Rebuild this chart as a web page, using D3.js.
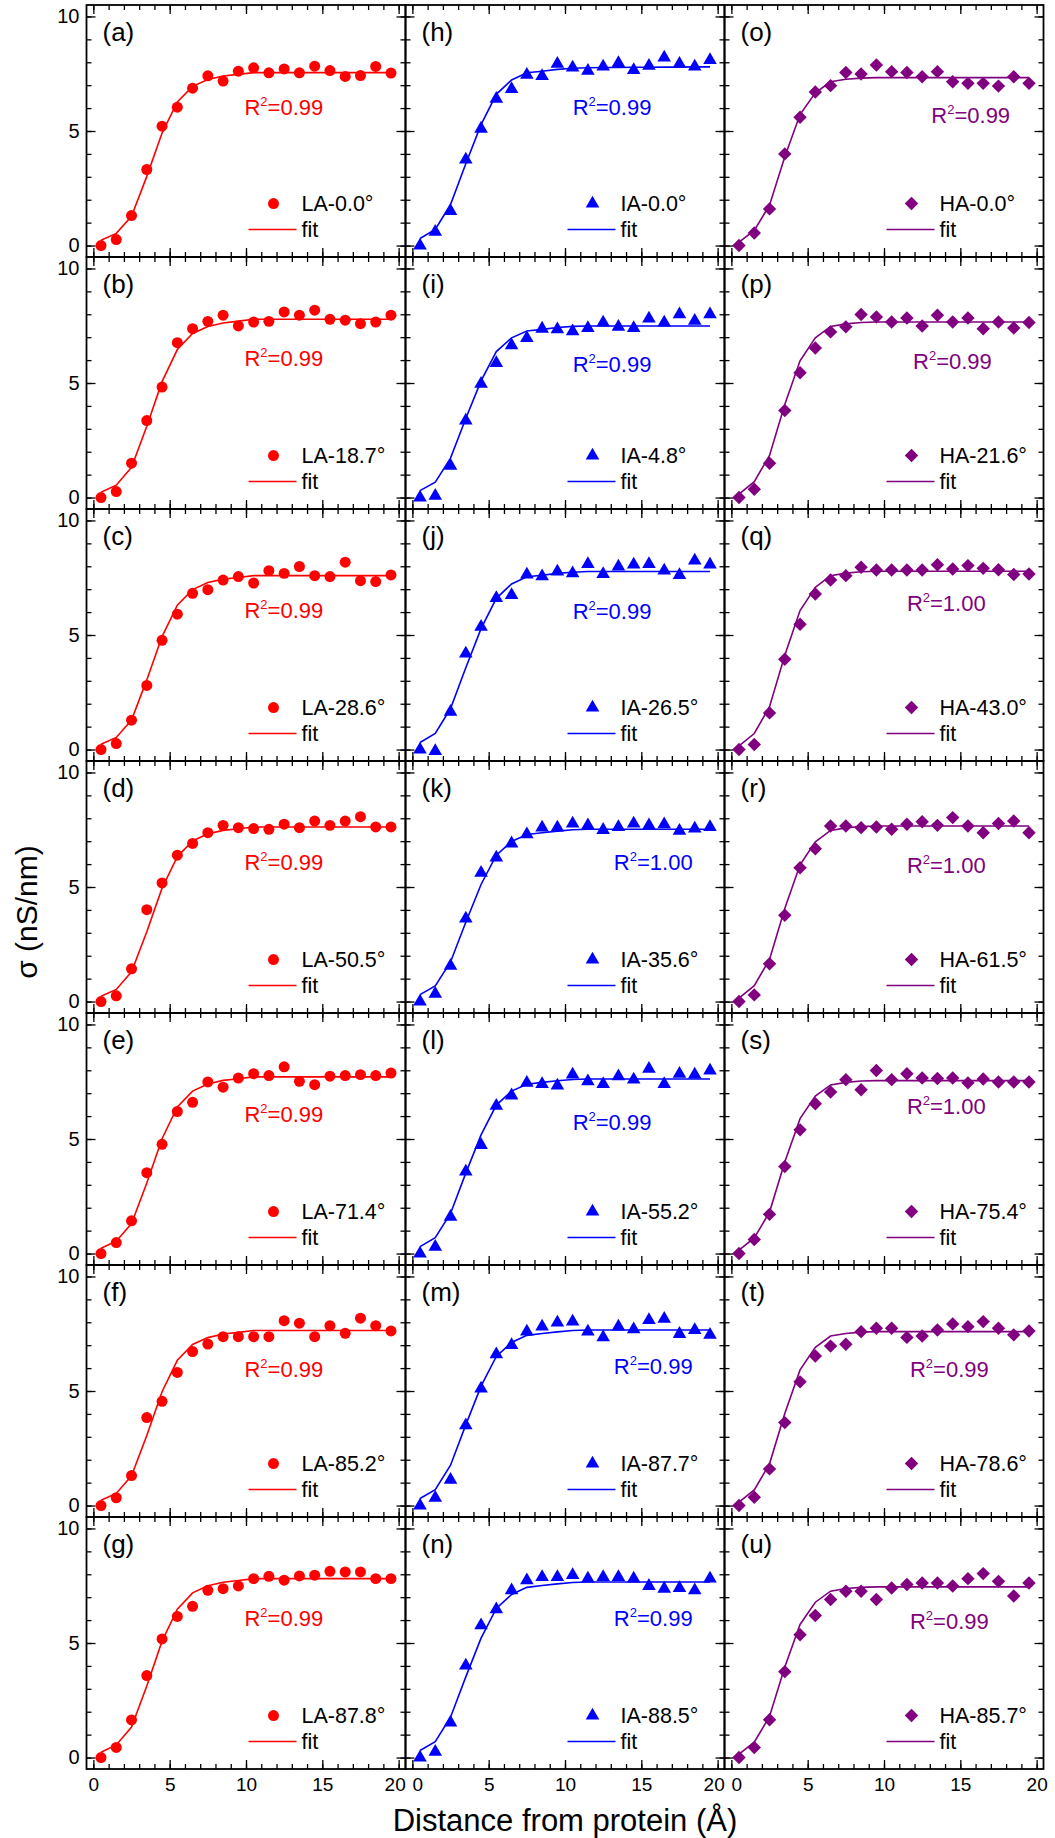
<!DOCTYPE html>
<html>
<head>
<meta charset="utf-8">
<script src="https://cdn.jsdelivr.net/npm/d3@7"></script>
<style>
  body { margin: 0; background: #fff; }
  text { font-family: "Liberation Sans", Arial, sans-serif; }
</style>
</head>
<body>
<div id="chart"></div>
<script>
// distance (Å) of every sample
let distance = [0.5, 1.5, 2.5, 3.5, 4.5, 5.5, 6.5, 7.5, 8.5, 9.5, 10.5, 11.5, 12.5, 13.5, 14.5, 15.5, 16.5, 17.5, 18.5, 19.5];

// low angle (LA) series, panels a-g
let laData = [
  [0, 0.26, 1.31, 3.32, 5.21, 6.04, 6.87, 7.41, 7.18, 7.61, 7.76, 7.54, 7.71, 7.54, 7.83, 7.64, 7.38, 7.42, 7.82, 7.53],
  [0, 0.26, 1.5, 3.36, 4.82, 6.76, 7.37, 7.69, 7.96, 7.49, 7.66, 7.69, 8.1, 7.96, 8.18, 7.78, 7.74, 7.59, 7.66, 7.96],
  [0, 0.26, 1.28, 2.8, 4.77, 5.91, 6.82, 6.98, 7.4, 7.55, 7.27, 7.81, 7.69, 7.99, 7.59, 7.55, 8.18, 7.37, 7.33, 7.62],
  [0, 0.25, 1.43, 4.01, 5.18, 6.39, 6.9, 7.37, 7.69, 7.59, 7.55, 7.52, 7.74, 7.59, 7.88, 7.69, 7.88, 8.07, 7.62, 7.62],
  [0, 0.48, 1.43, 3.53, 4.77, 6.2, 6.6, 7.49, 7.26, 7.66, 7.85, 7.77, 8.15, 7.52, 7.37, 7.74, 7.77, 7.81, 7.77, 7.88],
  [0, 0.34, 1.31, 3.84, 4.55, 5.81, 6.72, 7.05, 7.37, 7.37, 7.37, 7.37, 8.07, 7.96, 7.37, 7.85, 7.52, 8.18, 7.85, 7.62],
  [0, 0.44, 1.64, 3.58, 5.18, 6.16, 6.6, 7.3, 7.37, 7.49, 7.81, 7.91, 7.74, 7.93, 7.96, 8.13, 8.1, 8.1, 7.81, 7.81]
];
let laFit = [
  [0.23, 0.53, 1.28, 3.02, 4.91, 6.27, 6.95, 7.25, 7.4, 7.47, 7.55, 7.55, 7.55, 7.55, 7.55, 7.55, 7.55, 7.55, 7.55, 7.55],
  [0.23, 0.54, 1.32, 3.11, 5.06, 6.46, 7.16, 7.47, 7.62, 7.7, 7.78, 7.78, 7.78, 7.78, 7.78, 7.78, 7.78, 7.78, 7.78, 7.78],
  [0.23, 0.53, 1.29, 3.04, 4.93, 6.3, 6.98, 7.29, 7.44, 7.51, 7.59, 7.59, 7.59, 7.59, 7.59, 7.59, 7.59, 7.59, 7.59, 7.59],
  [0.23, 0.53, 1.3, 3.05, 4.95, 6.32, 7.01, 7.32, 7.47, 7.54, 7.62, 7.62, 7.62, 7.62, 7.62, 7.62, 7.62, 7.62, 7.62, 7.62],
  [0.23, 0.54, 1.31, 3.08, 5.01, 6.4, 7.09, 7.4, 7.56, 7.63, 7.71, 7.71, 7.71, 7.71, 7.71, 7.71, 7.71, 7.71, 7.71, 7.71],
  [0.23, 0.53, 1.3, 3.06, 4.97, 6.34, 7.03, 7.33, 7.49, 7.56, 7.64, 7.64, 7.64, 7.64, 7.64, 7.64, 7.64, 7.64, 7.64, 7.64],
  [0.23, 0.55, 1.33, 3.12, 5.08, 6.48, 7.19, 7.5, 7.65, 7.73, 7.81, 7.81, 7.81, 7.81, 7.81, 7.81, 7.81, 7.81, 7.81, 7.81]
];
let laNames = ["LA-0.0°", "LA-18.7°", "LA-28.6°", "LA-50.5°", "LA-71.4°", "LA-85.2°", "LA-87.8°"];
let laR2 = ["0.99", "0.99", "0.99", "0.99", "0.99", "0.99", "0.99"];

// intermediate angle (IA) series, panels h-n
let iaData = [
  [0, 0.6, 1.5, 3.75, 5.1, 6.4, 6.83, 7.45, 7.4, 7.93, 7.77, 7.63, 7.81, 7.96, 7.66, 7.84, 8.2, 7.93, 7.81, 8.1],
  [0, 0.07, 1.39, 3.36, 4.96, 5.87, 6.64, 6.96, 7.37, 7.34, 7.26, 7.4, 7.64, 7.45, 7.4, 7.81, 7.64, 8.0, 7.71, 8.0],
  [0, -0.07, 1.65, 4.19, 5.36, 6.61, 6.74, 7.64, 7.56, 7.77, 7.69, 8.1, 7.66, 7.99, 8.07, 8.1, 7.81, 7.62, 8.25, 8.07],
  [0, 0.34, 1.56, 3.62, 5.62, 6.28, 6.9, 7.3, 7.59, 7.59, 7.77, 7.69, 7.49, 7.62, 7.77, 7.69, 7.74, 7.45, 7.55, 7.62],
  [0, 0.29, 1.6, 3.58, 4.74, 6.45, 6.9, 7.45, 7.4, 7.33, 7.81, 7.52, 7.4, 7.74, 7.59, 8.06, 7.4, 7.84, 7.81, 7.99],
  [0, 0.34, 1.12, 3.5, 5.11, 6.6, 7.0, 7.59, 7.81, 7.99, 8.03, 7.59, 7.34, 7.81, 7.69, 8.1, 8.15, 7.49, 7.66, 7.45],
  [0, 0.25, 1.53, 4.01, 5.77, 6.47, 7.3, 7.74, 7.88, 7.88, 7.96, 7.81, 7.88, 7.88, 7.81, 7.49, 7.37, 7.4, 7.3, 7.81]
];
let iaFit = [
  [0.31, 0.7, 1.79, 3.57, 5.28, 6.6, 7.23, 7.54, 7.61, 7.69, 7.74, 7.76, 7.77, 7.77, 7.78, 7.78, 7.79, 7.79, 7.8, 7.8],
  [0.3, 0.67, 1.72, 3.45, 5.09, 6.37, 6.97, 7.27, 7.34, 7.42, 7.47, 7.49, 7.49, 7.49, 7.49, 7.49, 7.49, 7.49, 7.49, 7.49],
  [0.31, 0.7, 1.79, 3.57, 5.28, 6.6, 7.23, 7.54, 7.61, 7.69, 7.74, 7.77, 7.77, 7.77, 7.77, 7.77, 7.77, 7.77, 7.77, 7.77],
  [0.3, 0.68, 1.73, 3.46, 5.11, 6.39, 6.99, 7.29, 7.37, 7.44, 7.5, 7.52, 7.52, 7.52, 7.52, 7.52, 7.52, 7.52, 7.52, 7.52],
  [0.3, 0.69, 1.75, 3.51, 5.18, 6.48, 7.09, 7.39, 7.47, 7.54, 7.6, 7.62, 7.62, 7.62, 7.62, 7.62, 7.62, 7.62, 7.62, 7.62],
  [0.31, 0.69, 1.76, 3.52, 5.21, 6.51, 7.12, 7.43, 7.51, 7.58, 7.64, 7.66, 7.66, 7.66, 7.66, 7.66, 7.66, 7.66, 7.66, 7.66],
  [0.31, 0.69, 1.76, 3.52, 5.21, 6.51, 7.12, 7.43, 7.51, 7.58, 7.64, 7.66, 7.66, 7.66, 7.66, 7.66, 7.66, 7.66, 7.66, 7.66]
];
let iaNames = ["IA-0.0°", "IA-4.8°", "IA-26.5°", "IA-35.6°", "IA-55.2°", "IA-87.7°", "IA-88.5°"];
let iaR2 = ["0.99", "0.99", "0.99", "1.00", "0.99", "0.99", "0.99"];

// high angle (HA) series, panels o-u
let haData = [
  [0, 0.55, 1.6, 4.0, 5.6, 6.7, 6.98, 7.55, 7.49, 7.88, 7.59, 7.55, 7.37, 7.59, 7.15, 7.08, 7.08, 6.96, 7.37, 7.08],
  [0, 0.36, 1.5, 3.8, 5.45, 6.53, 7.23, 7.45, 7.99, 7.88, 7.66, 7.84, 7.49, 7.96, 7.66, 7.84, 7.37, 7.66, 7.4, 7.64],
  [0, 0.22, 1.6, 3.94, 5.47, 6.79, 7.4, 7.59, 7.96, 7.84, 7.84, 7.84, 7.84, 8.07, 7.88, 8.03, 7.91, 7.85, 7.64, 7.66],
  [0, 0.29, 1.65, 3.77, 5.84, 6.67, 7.66, 7.66, 7.59, 7.62, 7.52, 7.74, 7.85, 7.69, 8.03, 7.66, 7.37, 7.77, 7.88, 7.37],
  [0, 0.61, 1.71, 3.8, 5.4, 6.54, 7.05, 7.59, 7.15, 7.99, 7.59, 7.85, 7.66, 7.64, 7.66, 7.45, 7.62, 7.49, 7.49, 7.49],
  [0, 0.36, 1.6, 3.62, 5.4, 6.53, 6.96, 7.04, 7.59, 7.74, 7.74, 7.34, 7.4, 7.66, 7.93, 7.81, 8.03, 7.74, 7.45, 7.62],
  [0, 0.44, 1.65, 3.75, 5.36, 6.2, 6.9, 7.26, 7.26, 6.9, 7.4, 7.55, 7.62, 7.62, 7.49, 7.81, 8.03, 7.69, 7.05, 7.62]
];
let haFit = [
  [0.15, 0.66, 1.76, 3.88, 5.72, 6.67, 7.15, 7.26, 7.31, 7.33, 7.33, 7.33, 7.33, 7.33, 7.33, 7.33, 7.33, 7.33, 7.33, 7.33],
  [0.15, 0.69, 1.84, 4.06, 5.97, 6.97, 7.47, 7.58, 7.64, 7.66, 7.66, 7.66, 7.66, 7.66, 7.66, 7.66, 7.66, 7.66, 7.66, 7.66],
  [0.16, 0.7, 1.87, 4.12, 6.07, 7.08, 7.59, 7.7, 7.76, 7.78, 7.78, 7.78, 7.78, 7.78, 7.78, 7.78, 7.78, 7.78, 7.78, 7.78],
  [0.15, 0.69, 1.84, 4.06, 5.97, 6.97, 7.47, 7.58, 7.64, 7.66, 7.66, 7.66, 7.66, 7.66, 7.66, 7.66, 7.66, 7.66, 7.66, 7.66],
  [0.15, 0.68, 1.81, 4.0, 5.89, 6.87, 7.36, 7.47, 7.53, 7.55, 7.55, 7.55, 7.55, 7.55, 7.55, 7.55, 7.55, 7.55, 7.55, 7.55],
  [0.15, 0.68, 1.82, 4.02, 5.92, 6.91, 7.4, 7.51, 7.57, 7.59, 7.59, 7.59, 7.59, 7.59, 7.59, 7.59, 7.59, 7.59, 7.59, 7.59],
  [0.15, 0.67, 1.79, 3.95, 5.81, 6.78, 7.26, 7.38, 7.43, 7.45, 7.45, 7.45, 7.45, 7.45, 7.45, 7.45, 7.45, 7.45, 7.45, 7.45]
];
let haNames = ["HA-0.0°", "HA-21.6°", "HA-43.0°", "HA-61.5°", "HA-75.4°", "HA-78.6°", "HA-85.7°"];
let haR2 = ["0.99", "0.99", "1.00", "1.00", "1.00", "0.99", "0.99"];

let panelLetters = [
  ["a", "b", "c", "d", "e", "f", "g"],
  ["h", "i", "j", "k", "l", "m", "n"],
  ["o", "p", "q", "r", "s", "t", "u"]
];

// where each R² note sits, in data units [distance, sigma]
let r2Anchor = [
  [[9.9, 5.68], [9.9, 5.76], [9.9, 5.76], [9.9, 5.76], [9.9, 5.76], [9.9, 5.59], [9.9, 5.76]],
  [[10.5, 5.68], [10.5, 5.46], [10.5, 5.68], [13.2, 5.76], [10.5, 5.41], [13.2, 5.76], [13.2, 5.76]],
  [[13.1, 5.33], [11.9, 5.59], [11.5, 6.03], [11.5, 5.59], [11.5, 6.07], [11.7, 5.59], [11.7, 5.59]]
];

let xTicks = [0, 5, 10, 15, 20];
let yTicks = [0, 5, 10];

let svgWidth = 1055;
let svgHeight = 1838;
let panelW = 319;
let panelH = 252;
let left0 = 86.5;
let top0 = 5;

let diamond = {
  draw: function(ctx, size) {
    let r = Math.sqrt(size / 2);
    ctx.moveTo(0, -r);
    ctx.lineTo(r, 0);
    ctx.lineTo(0, r);
    ctx.lineTo(-r, 0);
    ctx.closePath();
  }
};

let columns = [
  { data: laData, fit: laFit, names: laNames, r2: laR2, color: "#ff0000", symbol: d3.symbolCircle, size: 95 },
  { data: iaData, fit: iaFit, names: iaNames, r2: iaR2, color: "#0000ff", symbol: d3.symbolTriangle, size: 80 },
  { data: haData, fit: haFit, names: haNames, r2: haR2, color: "#800080", symbol: diamond, size: 90 }
];

let svg = d3.select("#chart")
  .append("svg")
  .attr("width", svgWidth)
  .attr("height", svgHeight);

columns.forEach(function(col, c) {
  col.data.forEach(function(values, r) {
    let left = left0 + c * panelW;
    let top = top0 + r * panelH;

    let x = d3.scaleLinear().domain([-0.45, 20.45]).range([left, left + panelW]);
    let y = d3.scaleLinear().domain([-0.5, 10.5]).range([top + panelH, top]);

    let g = svg.append("g");

    // minor + major ticks on all four sides, pointing inwards
    let addAxis = function(axis, translate, labels, size) {
      let a = g.append("g").attr("transform", translate).call(axis);
      a.select(".domain").remove();
      a.selectAll("line").attr("stroke", "#000").attr("stroke-width", 1.3);
      a.selectAll("text")
        .attr("fill", "#000")
        .attr("font-size", size || 20)
        .style("display", labels ? null : "none");
      return a;
    };

    let bottomY = top + panelH;
    let rightX = left + panelW;
    addAxis(d3.axisBottom(x).tickValues(d3.range(0, 21)).tickSize(-5).tickFormat(""), `translate(0,${bottomY})`, false);
    addAxis(d3.axisTop(x).tickValues(d3.range(0, 21)).tickSize(-5).tickFormat(""), `translate(0,${top})`, false);
    addAxis(d3.axisLeft(y).tickValues(d3.range(0, 11)).tickSize(-5).tickFormat(""), `translate(${left},0)`, false);
    addAxis(d3.axisRight(y).tickValues(d3.range(0, 11)).tickSize(-5).tickFormat(""), `translate(${rightX},0)`, false);

    let bottom = addAxis(d3.axisBottom(x).tickValues(xTicks).tickSize(-9).tickPadding(9), `translate(0,${bottomY})`, r === 6, 19);
    // keep the "20" and "0" of neighbouring panels apart
    bottom.selectAll("text")
      .attr("dx", d => (d === 20 && c < 2) ? -4 : (d === 0 && c > 0) ? 5 : 0);
    addAxis(d3.axisTop(x).tickValues(xTicks).tickSize(-9).tickFormat(""), `translate(0,${top})`, false);
    addAxis(d3.axisLeft(y).tickValues(yTicks).tickSize(-9).tickPadding(7), `translate(${left},0)`, c === 0, 20);
    addAxis(d3.axisRight(y).tickValues(yTicks).tickSize(-9).tickFormat(""), `translate(${rightX},0)`, false);

    // frame
    g.append("rect")
      .attr("x", left)
      .attr("y", top)
      .attr("width", panelW)
      .attr("height", panelH)
      .attr("fill", "none")
      .attr("stroke", "#000")
      .attr("stroke-width", 1.8);

    // fit curve
    let line = d3.line()
      .x((d, i) => x(distance[i]))
      .y(d => y(d));

    g.append("path")
      .datum(col.fit[r])
      .attr("d", line)
      .attr("fill", "none")
      .attr("stroke", col.color)
      .attr("stroke-width", 1.6);

    // points
    g.selectAll(".pt")
      .data(values)
      .enter()
      .append("path")
      .attr("class", "pt")
      .attr("transform", (d, i) => `translate(${x(distance[i])},${y(d)})`)
      .attr("d", d3.symbol().type(col.symbol).size(col.size))
      .attr("fill", col.color);

    // panel letter
    g.append("text")
      .attr("x", left + 16)
      .attr("y", top + 36)
      .attr("font-size", 26)
      .attr("fill", "#000")
      .text(`(${panelLetters[c][r]})`);

    // R² note
    let note = g.append("text")
      .attr("x", x(r2Anchor[c][r][0]))
      .attr("y", y(r2Anchor[c][r][1]))
      .attr("font-size", 22)
      .attr("fill", col.color);
    note.append("tspan").text("R");
    note.append("tspan").attr("font-size", 13).attr("dy", -9).text("2");
    note.append("tspan").attr("dy", 9).text("=" + col.r2[r]);

    // legend
    let zeroY = y(0);
    g.append("path")
      .attr("transform", `translate(${left + 187},${zeroY - 42})`)
      .attr("d", d3.symbol().type(col.symbol).size(col.size))
      .attr("fill", col.color);
    g.append("text")
      .attr("x", left + 215)
      .attr("y", zeroY - 35)
      .attr("font-size", 21.5)
      .attr("fill", "#000")
      .text(col.names[r]);
    g.append("line")
      .attr("x1", left + 162)
      .attr("x2", left + 210)
      .attr("y1", zeroY - 16)
      .attr("y2", zeroY - 16)
      .attr("stroke", col.color)
      .attr("stroke-width", 1.6);
    g.append("text")
      .attr("x", left + 215)
      .attr("y", zeroY - 8.5)
      .attr("font-size", 21.5)
      .attr("fill", "#000")
      .text("fit");
  });
});

// axis titles
svg.append("text")
  .attr("x", 565)
  .attr("y", 1831)
  .attr("text-anchor", "middle")
  .attr("font-size", 31)
  .attr("fill", "#000")
  .text("Distance from protein (Å)");

svg.append("text")
  .attr("transform", "translate(37,912) rotate(-90)")
  .attr("text-anchor", "middle")
  .attr("font-size", 30)
  .attr("fill", "#000")
  .text("σ (nS/nm)");
</script>
</body>
</html>
